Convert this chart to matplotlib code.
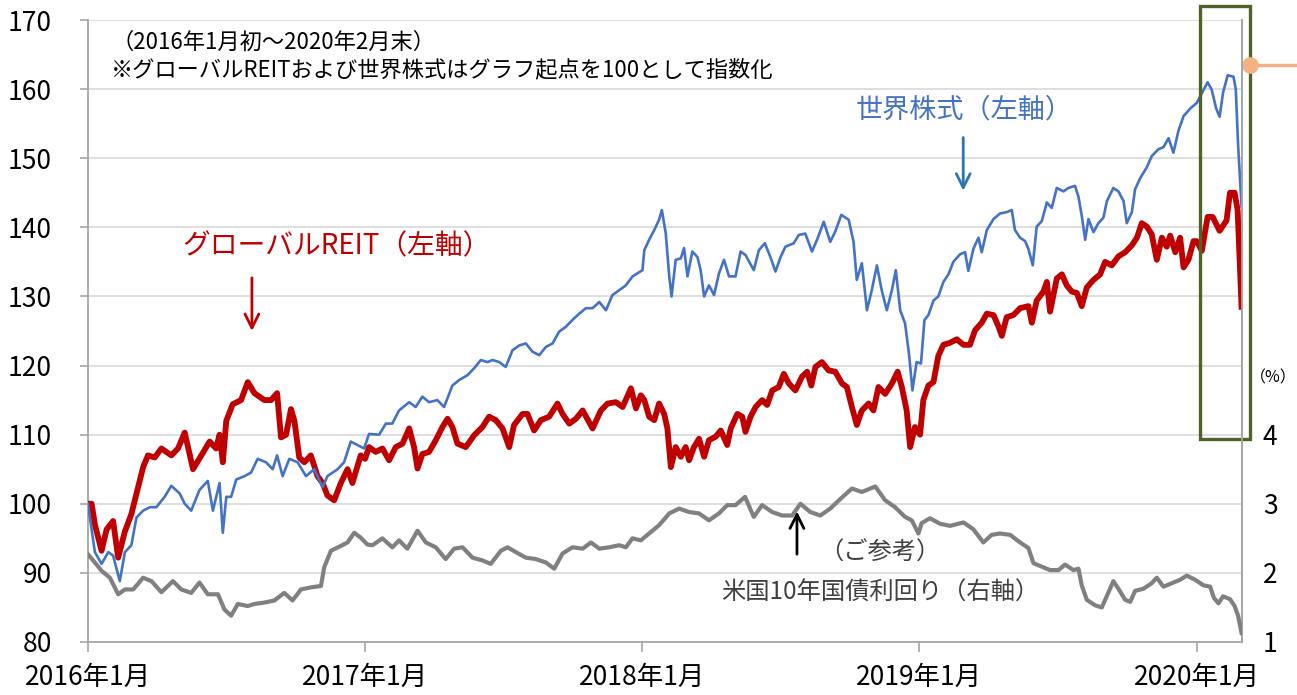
import matplotlib
matplotlib.use('Agg')
import matplotlib.pyplot as plt
from matplotlib.patches import Rectangle

plt.rcParams['font.family'] = ['Noto Sans CJK JP', 'DejaVu Sans']

# x positions: months elapsed since 2016-01
reit_m = [0, 0.16, 0.30, 0.59, 0.81, 1.09, 1.31, 1.60, 1.88, 2.17, 2.39, 2.60, 2.89, 3.18, 3.61, 3.90,
          4.19, 4.55, 4.91, 5.27, 5.55, 5.70, 5.84, 5.99, 6.27, 6.63, 6.92, 7.21, 7.64, 7.93, 8.19, 8.36,
          8.58, 8.79, 8.94, 9.15, 9.37, 9.65, 9.94, 10.16, 10.37, 10.66, 10.95, 11.24, 11.45, 11.81,
          12.0, 12.17, 12.46, 12.75, 13.04, 13.33, 13.62, 13.91, 14.12, 14.27, 14.48, 14.77, 15.06, 15.35,
          15.57, 15.78, 16.00, 16.36, 16.72, 17.08, 17.37, 17.66, 17.95, 18.24, 18.45, 18.82, 19.03, 19.32,
          19.61, 19.97, 20.33, 20.55, 20.84, 21.13, 21.42, 21.85, 22.21, 22.50, 22.86, 23.15, 23.51, 23.73,
          23.94, 24.09, 24.30, 24.52, 24.73, 24.95, 25.09, 25.24, 25.45, 25.67, 25.88, 26.03, 26.24, 26.46,
          26.68, 26.89, 27.18, 27.40, 27.68, 27.83, 28.12, 28.33, 28.47, 28.69, 28.91, 29.19, 29.41, 29.63,
          29.91, 30.13, 30.35, 30.63, 30.92, 31.14, 31.32, 31.50, 31.78, 32.07, 32.36, 32.65, 32.86, 33.08,
          33.29, 33.51, 33.80, 34.01, 34.23, 34.52, 34.81, 35.06, 35.24, 35.45, 35.60, 35.81, 36.03, 36.17,
          36.39, 36.61, 36.82, 37.04, 37.33, 37.62, 37.91, 38.19, 38.41, 38.70, 38.92, 39.21, 39.42, 39.57,
          39.78, 40.07, 40.36, 40.72, 40.87, 41.08, 41.37, 41.52, 41.66, 41.95, 42.17, 42.38, 42.60, 42.82,
          43.03, 43.25, 43.54, 43.83, 44.04, 44.33, 44.62, 44.91, 45.20, 45.42, 45.63, 45.85, 46.06, 46.28,
          46.50, 46.71, 46.86, 47.08, 47.29, 47.44, 47.65, 47.87, 48.01, 48.23, 48.48, 48.70, 49.00, 49.30,
          49.45, 49.65, 49.78, 49.95]
reit = [100, 100, 97, 93.2, 96.3, 97.5, 92.2, 96, 98.5, 102.4, 105.3, 107, 106.7, 108, 107, 108,
        110.3, 105, 107, 109, 108, 110, 106, 112, 114.4, 115, 117.6, 116, 115, 115, 116, 109.6,
        110, 113.7, 112, 106.7, 106, 107, 104, 103, 101.2, 100.5, 103, 105, 103, 107,
        106.5, 108.2, 107.5, 108, 106.3, 108.2, 108.7, 110.9, 108.2, 105.1, 107.2, 107.5, 109.2, 111.1,
        112.3, 111.1, 108.7, 108.2, 109.9, 111.1, 112.6, 112.1, 110.9, 108.2, 111.4, 113, 113, 110.6,
        112.1, 112.6, 114.5, 113, 111.6, 112.3, 113.5, 110.9, 113.5, 114.5, 114.7, 114, 116.7, 113.8,
        115.7, 115, 112.6, 112.1, 114.5, 113, 110.9, 105.3, 108.2, 106.8, 108.2, 106.3, 108.2, 109.4,
        106.8, 109.2, 109.7, 110.6, 108.5, 110.9, 113, 112.6, 110.4, 112.6, 114, 115, 114.3, 116.4,
        116.9, 118.8, 117.4, 116.4, 118.4, 119.1, 117.1, 119.8, 120.5, 119.3, 119.1, 117.4, 116.9, 114,
        111.4, 113.5, 114.5, 113.5, 116.9, 115.9, 117.4, 119.1, 116.9, 113.5, 108.2, 111.1, 110, 115,
        117.1, 117.6, 121.4, 123, 123.3, 123.8, 123, 123, 125.1, 126.2, 127.5, 127.3, 125.7, 124.3,
        127, 127.3, 128.3, 128.6, 126.2, 129.4, 130.7, 132.1, 127.8, 132.6, 133.2, 131.6, 130.7, 130.5,
        128.6, 131.3, 132.4, 133.2, 135, 134.5, 135.8, 136.4, 137.4, 138.5, 140.6, 140.1, 139, 135.3,
        138.5, 137.2, 138.8, 136.4, 138.5, 134.2, 135.3, 138, 138, 136.6, 141.5, 141.5, 139.5, 141,
        145, 145, 142.5, 128.5]

world_m = [0, 0.30, 0.59, 0.88, 1.09, 1.38, 1.60, 1.88, 2.10, 2.39, 2.68, 2.96, 3.32, 3.61, 3.97, 4.19,
           4.47, 4.83, 5.19, 5.41, 5.70, 5.84, 5.99, 6.20, 6.42, 6.78, 7.06, 7.35, 7.71, 8.00, 8.19, 8.43,
           8.72, 9.08, 9.44, 9.80, 10.16, 10.37, 10.81, 11.09, 11.38, 11.67, 11.96,
           12.17, 12.61, 12.90, 13.18, 13.47, 13.91, 14.19, 14.48, 14.77, 15.13, 15.42, 15.78, 16.07, 16.43,
           16.72, 17.01, 17.30, 17.52, 17.81, 18.09, 18.38, 18.67, 18.96, 19.25, 19.54, 19.83, 20.12, 20.40,
           20.69, 20.98, 21.27, 21.56, 21.85, 22.14, 22.43, 22.71, 23.00, 23.29, 23.58, 24.01,
           24.09, 24.30, 24.52, 24.73, 24.85, 25.02, 25.17, 25.27, 25.45, 25.67, 25.81, 25.96, 26.17, 26.39,
           26.53, 26.68, 26.89, 27.11, 27.32, 27.54, 27.76, 28.04, 28.26, 28.47, 28.83, 29.05, 29.31, 29.55,
           29.77, 29.99, 30.20, 30.56, 30.78, 31.06, 31.35, 31.57, 31.86, 32.14, 32.36, 32.62, 32.94, 33.15,
           33.29, 33.51, 33.73, 33.94, 34.16, 34.37, 34.59, 34.81, 34.98, 35.17, 35.38, 35.55, 35.70, 35.88,
           36.07, 36.22, 36.39, 36.61, 36.82, 37.04, 37.26, 37.47, 37.76, 37.98, 38.12, 38.34, 38.56, 38.70,
           38.92, 39.21, 39.49, 39.78, 40.00, 40.14, 40.36, 40.58, 40.72, 40.91, 41.08, 41.30, 41.52, 41.73,
           41.95, 42.24, 42.45, 42.74, 42.89, 43.03, 43.18, 43.32, 43.54, 43.75, 43.97, 44.12, 44.40, 44.62,
           44.84, 44.98, 45.20, 45.34, 45.56, 45.85, 46.06, 46.35, 46.57, 46.79, 47.00, 47.22, 47.44, 47.73,
           48.01, 48.23, 48.48, 48.66, 48.85, 49.00, 49.15, 49.35, 49.60, 49.70, 49.80, 49.95]
world = [100, 93, 91.3, 93, 92.5, 88.8, 93, 94, 98, 99, 99.5, 99.5, 101, 102.6, 101.5, 100,
         99, 102, 103.3, 99, 103, 95.8, 101, 101, 103.5, 104, 104.5, 106.5, 106, 105, 107, 104,
         106.5, 106, 104, 105, 102.4, 104, 105, 106, 109, 108.5, 108,
         110.1, 110, 111.6, 111.6, 113.5, 114.7, 114, 115.5, 114.7, 115, 114, 117.1, 117.9, 118.6,
         119.6, 120.8, 120.5, 120.8, 120.5, 119.8, 122.2, 122.9, 123.2, 122, 121.5, 122.7, 123.2, 124.9,
         125.6, 126.6, 127.5, 128.3, 128.3, 129.2, 128, 130.2, 130.9, 131.6, 132.9, 133.8,
         136.7, 138.2, 139.6, 141.1, 142.5, 139.1, 132.9, 130, 135.3, 135.5, 137, 132.9, 136.5, 135.7,
         133.8, 130, 131.6, 130.2, 133.3, 135.3, 132.9, 132.9, 136.5, 136, 133.8, 136.7, 137.7, 135.7,
         133.6, 135.7, 137.2, 137.7, 138.9, 139.1, 136.5, 138.2, 140.8, 137.9, 139.4, 141.8, 141.1, 137.9,
         132.4, 134.8, 128, 130.9, 134.5, 130.9, 128, 130.9, 133.8, 128, 126.1, 121.7, 116.4, 120.5,
         120.3, 126.6, 127.3, 129.4, 130, 132.1, 133.2, 135, 136.1, 136.4, 133.7, 136.9, 138.5, 136.4,
         139.6, 141.2, 142, 142.2, 142.5, 139.6, 138.5, 138, 136.9, 134.5, 140.1, 140.9, 143.6, 142.8,
         145.7, 145.2, 145.7, 146, 144.4, 141.7, 138.2, 141.2, 139.3, 140.6, 141.4, 143.8, 145.7, 145.2,
         143.8, 140.6, 142.2, 145.5, 147.1, 148.7, 150.3, 151.3, 151.6, 152.9, 150.8, 154, 156.1, 157.2,
         158, 159.4, 161, 159.9, 157.2, 156, 159.5, 162, 161.8, 160, 152, 143]

# US 10y treasury yield (%), right axis
ust_m = [0, 0.30, 0.59, 0.95, 1.31, 1.60, 1.96, 2.39, 2.75, 3.18, 3.68, 4.04, 4.47, 4.83, 5.19, 5.63,
         5.91, 6.20, 6.49, 6.92, 7.21, 7.64, 8.07, 8.50, 8.86, 9.22, 9.65, 10.09, 10.23, 10.52, 10.95,
         11.24, 11.53, 11.81, 12.10, 12.32, 12.75, 13.18, 13.47, 13.83, 14.27, 14.63, 15.06, 15.49, 15.86,
         16.22, 16.65, 17.08, 17.44, 17.88, 18.17, 18.53, 18.96, 19.39, 19.83, 20.19, 20.55, 20.98, 21.42,
         21.78, 22.14, 22.57, 23.00, 23.29, 23.58, 23.94, 24.30, 24.73, 25.17, 25.60, 26.03, 26.46, 26.89,
         27.32, 27.68, 28.04, 28.45, 28.83, 29.19, 29.63, 30.06, 30.49, 30.85, 31.28, 31.71, 32.14, 32.58,
         33.08, 33.51, 34.09, 34.52, 34.95, 35.38, 35.67, 35.96, 36.10, 36.46, 36.90, 37.33, 37.91, 38.34,
         38.77, 39.13, 39.49, 39.93, 40.36, 40.72, 40.94, 41.30, 41.66, 42.02, 42.31, 42.67, 42.89, 43.03,
         43.25, 43.61, 43.90, 44.19, 44.40, 44.62, 44.91, 45.13, 45.34, 45.70, 46.06, 46.28, 46.57, 46.93,
         47.29, 47.58, 47.94, 48.30, 48.59, 48.75, 48.95, 49.15, 49.45, 49.65, 49.80, 49.95]
ust = [2.27, 2.15, 2.03, 1.93, 1.69, 1.76, 1.76, 1.93, 1.88, 1.72, 1.88, 1.76, 1.71, 1.86, 1.69, 1.69,
       1.47, 1.38, 1.55, 1.52, 1.55, 1.57, 1.60, 1.71, 1.60, 1.76, 1.79, 1.81, 2.08, 2.32, 2.39,
       2.44, 2.58, 2.51, 2.41, 2.40, 2.50, 2.37, 2.47, 2.35, 2.61, 2.44, 2.37, 2.20, 2.35,
       2.37, 2.22, 2.18, 2.13, 2.32, 2.37, 2.30, 2.22, 2.20, 2.15, 2.06, 2.28, 2.37, 2.35,
       2.44, 2.35, 2.37, 2.40, 2.37, 2.50, 2.47, 2.57, 2.69, 2.86, 2.93, 2.88, 2.86, 2.76,
       2.86, 2.98, 2.98, 3.10, 2.81, 2.98, 2.88, 2.83, 2.83, 3.00, 2.88, 2.83, 2.93, 3.07,
       3.22, 3.17, 3.25, 3.05, 2.95, 2.81, 2.76, 2.57, 2.72, 2.79, 2.71, 2.68, 2.73, 2.63,
       2.44, 2.55, 2.57, 2.55, 2.44, 2.36, 2.14, 2.09, 2.04, 2.04, 2.12, 2.04, 2.06, 1.82,
       1.61, 1.53, 1.50, 1.72, 1.88, 1.77, 1.61, 1.58, 1.74, 1.77, 1.85, 1.93, 1.80, 1.85,
       1.90, 1.96, 1.90, 1.82, 1.80, 1.64, 1.56, 1.66, 1.62, 1.52, 1.38, 1.13]

x_ticks = [0, 12, 24, 36, 48]
x_labels = ['2016年1月', '2017年1月', '2018年1月', '2019年1月', '2020年1月']
left_ticks = [80, 90, 100, 110, 120, 130, 140, 150, 160, 170]
right_ticks = [1, 2, 3, 4]


def main():
    fig = plt.figure(figsize=(12.97, 6.95), dpi=100)
    ax = fig.add_axes([0.0678, 0.0763, 0.8898, 0.8949])

    ax.plot(reit_m, reit, color='#C00000', lw=4.2, solid_joinstyle='round', zorder=3)
    ax.plot(world_m, world, color='#4472C4', lw=1.9, zorder=4)

    ax.set_xlim(0, 49.97)
    ax.set_ylim(80, 170)
    ax.set_yticks(left_ticks)
    ax.set_xticks(x_ticks)
    ax.set_xticklabels(x_labels)
    ax.grid(axis='y', color='#D9D9D9', lw=1.2)
    ax.set_axisbelow(True)
    for s in ['left', 'bottom', 'right']:
        ax.spines[s].set_color('#A6A6A6')
        ax.spines[s].set_linewidth(1.3)
    ax.spines['top'].set_visible(False)
    ax.tick_params(axis='y', length=6, width=1.2, color='#A6A6A6', pad=20, labelsize=19)
    ax.tick_params(axis='x', length=7, width=1.2, color='#A6A6A6', pad=9, labelsize=19)

    ax2 = ax.twinx()
    ax2.plot(ust_m, ust, color='#808080', lw=3.0, zorder=3)
    ax2.set_ylim(1, 10)
    ax2.set_yticks(right_ticks)
    ax2.tick_params(axis='y', length=0, pad=15, labelsize=19)
    for s in ['left', 'bottom', 'top']:
        ax2.spines[s].set_visible(False)
    ax2.spines['right'].set_color('#A6A6A6')
    ax2.spines['right'].set_linewidth(1.3)

    # notes
    ax.text(0.02, 0.965, '（2016年1月初～2020年2月末）', transform=ax.transAxes,
            fontsize=16, va='center', ha='left')
    ax.text(0.02, 0.92, '※グローバルREITおよび世界株式はグラフ起点を100として指数化',
            transform=ax.transAxes, fontsize=16, va='center', ha='left')

    ax.text(10.75, 137.3, 'グローバルREIT（左軸）', color='#C00000', fontsize=20, ha='center', va='center')
    ax.annotate('', xy=(7.1, 124.6), xytext=(7.1, 133.1),
                arrowprops=dict(arrowstyle='->', color='#C00000', lw=2, mutation_scale=25))

    ax.text(37.95, 157.0, '世界株式（左軸）', color='#4472C4', fontsize=19.5, ha='center', va='center')
    ax.annotate('', xy=(37.9, 144.9), xytext=(37.9, 153.4),
                arrowprops=dict(arrowstyle='->', color='#2E75B6', lw=2, mutation_scale=25))

    ax.annotate('', xy=(30.7, 99.3), xytext=(30.7, 92.3),
                arrowprops=dict(arrowstyle='->', color='black', lw=2, mutation_scale=25))
    ax.text(34.3, 92.9, '（ご参考）', color='#404040', fontsize=17.5, ha='center', va='center')
    ax.text(34.3, 87.1, '米国10年国債利回り（右軸）', color='#404040', fontsize=17.5, ha='center', va='center')

    fig.text(0.9635, 0.456, '（%）', fontsize=11.5, ha='left', va='center')

    # highlight box on the latest period
    rect = Rectangle((48.15, 109.3), 2.15, 62.8, fill=False, edgecolor='#4F6228', lw=2.4,
                     clip_on=False, zorder=6)
    ax.add_patch(rect)
    ax.plot([50.3, 52.5], [163.5, 163.5], color='#F4B183', lw=2.5, clip_on=False, zorder=7)
    ax.plot([50.3], [163.5], 'o', color='#F4B183', ms=11, clip_on=False, zorder=7)

    fig.savefig('out.png', dpi=100)


if __name__ == '__main__':
    main()
